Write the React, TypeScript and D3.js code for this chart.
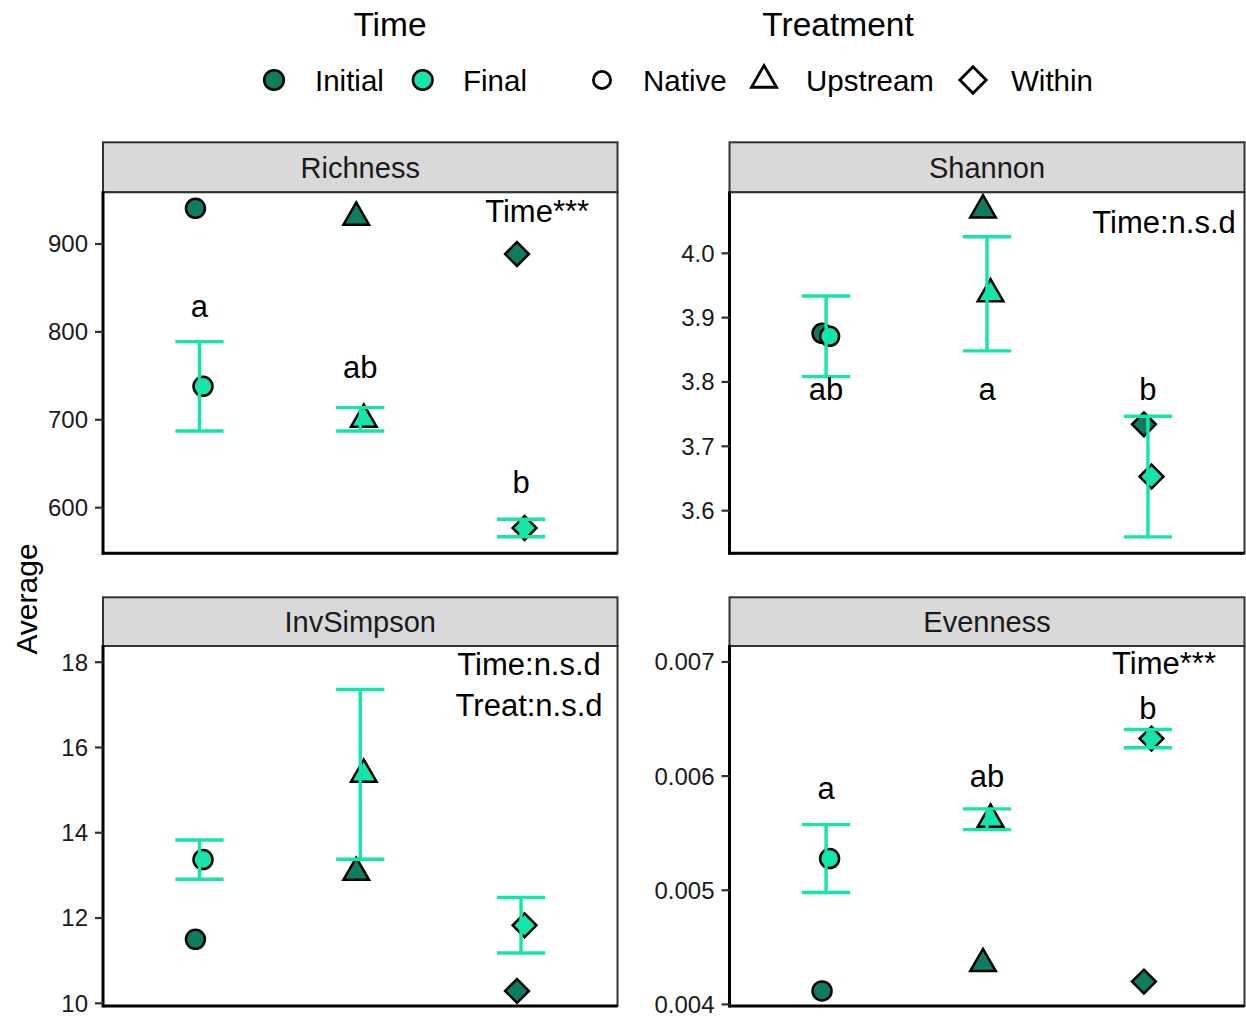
import React from "react";
import * as d3 from "d3";

// ---- data ---------------------------------------------------------------
const treatments = ["Native", "Upstream", "Within"];
const timeLevels = ["Initial", "Final"];
const metrics = ["Richness", "Shannon", "InvSimpson", "Evenness"];

// Richness
const richnessInitial = [940.6, 930.4, 888.6];
const richnessFinal = [738.1, 700.5, 576.9];
const richnessSe = [50.8, 13.3, 9.9];
const richnessLetters = ["a", "ab", "b"];
const richnessLetterY = [816.6, 747.2, 617.1];
const richnessNotes = ["Time***"];
const richnessNoteY = [925.4];
const richnessNoteX = [3.1];
const richnessDomain = [548.1, 958.8];
const richnessTicks = [600, 700, 800, 900];

// Shannon
const shannonInitial = [3.8756, 4.0673, 3.7342];
const shannonFinal = [3.871, 3.937, 3.653];
const shannonSe = [0.0627, 0.0886, 0.0938];
const shannonLetters = ["ab", "a", "b"];
const shannonLetterY = [3.772, 3.772, 3.772];
const shannonNotes = ["Time:n.s.d"];
const shannonNoteY = [4.031];
const shannonNoteX = [3.1];
const shannonDomain = [3.5337, 4.0948];
const shannonTicks = [3.6, 3.7, 3.8, 3.9, 4.0];

// InvSimpson
const invSimpsonInitial = [11.5, 13.07, 10.29];
const invSimpsonFinal = [13.37, 15.37, 11.83];
const invSimpsonSe = [0.46, 1.99, 0.65];
const invSimpsonLetters: string[] = [];
const invSimpsonLetterY: number[] = [];
const invSimpsonNotes = ["Time:n.s.d", "Treat:n.s.d"];
const invSimpsonNoteY = [17.71, 16.75];
const invSimpsonNoteX = [3.05, 3.05];
const invSimpsonDomain = [9.937, 18.38];
const invSimpsonTicks = [10, 12, 14, 16, 18];

// Evenness
const evennessInitial = [0.004118, 0.004357, 0.0042];
const evennessFinal = [0.005278, 0.005622, 0.006329];
const evennessSe = [0.000297, 0.000091, 0.00008];
const evennessLetters = ["a", "ab", "b"];
const evennessLetterY = [0.0058, 0.005906, 0.006503];
const evennessNotes = ["Time***"];
const evennessNoteY = [0.006892];
const evennessNoteX = [3.1];
const evennessDomain = [0.003986, 0.00714];
const evennessTicks = [0.004, 0.005, 0.006, 0.007];

const panelData = [
  { initial: richnessInitial, final: richnessFinal, se: richnessSe, letters: richnessLetters, letterY: richnessLetterY, notes: richnessNotes, noteY: richnessNoteY, noteX: richnessNoteX, domain: richnessDomain, ticks: richnessTicks, fmt: d3.format("d") },
  { initial: shannonInitial, final: shannonFinal, se: shannonSe, letters: shannonLetters, letterY: shannonLetterY, notes: shannonNotes, noteY: shannonNoteY, noteX: shannonNoteX, domain: shannonDomain, ticks: shannonTicks, fmt: d3.format(".1f") },
  { initial: invSimpsonInitial, final: invSimpsonFinal, se: invSimpsonSe, letters: invSimpsonLetters, letterY: invSimpsonLetterY, notes: invSimpsonNotes, noteY: invSimpsonNoteY, noteX: invSimpsonNoteX, domain: invSimpsonDomain, ticks: invSimpsonTicks, fmt: d3.format("d") },
  { initial: evennessInitial, final: evennessFinal, se: evennessSe, letters: evennessLetters, letterY: evennessLetterY, notes: evennessNotes, noteY: evennessNoteY, noteX: evennessNoteX, domain: evennessDomain, ticks: evennessTicks, fmt: d3.format(".3f") },
];

// ---- styling / layout -----------------------------------------------------
const W = 1246;
const H = 1016;
const FONT = "'Liberation Sans', Arial, Helvetica, sans-serif";
const INITIAL_FILL = "#0e7c5e";
const FINAL_FILL = "#14e5aa";
const colX = [
  [103, 617.5],
  [729.5, 1244.5],
];
const rowY = [
  { strip: 142.3, top: 192.3, bottom: 553.3 },
  { strip: 597.3, top: 646, bottom: 1006 },
];
const R_PT = 9.5;
const PT_STROKE = 2.5;
const DODGE_INITIAL = -0.025;
const DODGE_FINAL = 0.022;
const CAP = 0.15;

// symbols following R's pch geometry
function symbolPath(treatment: string, R: number, legendOpen = false): string | null {
  if (treatment === "Upstream") {
    const r = 1.555 * R, xc = 1.347 * R, yc = 0.778 * R;
    return `M0,${-r}L${xc},${yc}L${-xc},${yc}Z`;
  }
  if (treatment === "Within") {
    const h = (legendOpen ? 1.414 : 1.2533) * R;
    return `M0,${-h}L${h},0L0,${h}L${-h},0Z`;
  }
  return null;
}

function Symbol({ treatment, x, y, R, fill, open = false, sw = PT_STROKE }: { treatment: string; x: number; y: number; R: number; fill: string; open?: boolean; sw?: number }) {
  const p = symbolPath(treatment, R, open);
  if (!p) return <circle cx={x} cy={y} r={R} fill={fill} stroke="#000" strokeWidth={sw} />;
  return <path d={p} transform={`translate(${x},${y})`} fill={fill} stroke="#000" strokeWidth={sw} strokeLinejoin="miter" />;
}

function Panel({ idx }: { idx: number }) {
  const d = panelData[idx];
  const [x0, x1] = colX[idx % 2];
  const { strip, top, bottom } = rowY[Math.floor(idx / 2)];
  const x = d3.scaleLinear().domain([0.4, 3.6]).range([x0, x1]);
  const y = d3.scaleLinear().domain(d.domain).range([bottom, top]);
  const midStrip = (strip + top) / 2;
  return (
    <g>
      <rect x={x0} y={strip} width={x1 - x0} height={top - strip} fill="#d9d9d9" stroke="#333" strokeWidth={2} />
      <text x={(x0 + x1) / 2} y={midStrip + 10.4} textAnchor="middle" fontSize={29} fill="#1a1a1a">
        {metrics[idx]}
      </text>
      <rect x={x0} y={top} width={x1 - x0} height={bottom - top} fill="#fff" />
      {/* initial means */}
      {treatments.map((t, i) => (
        <Symbol key={"i" + t} treatment={t} x={x(i + 1 + DODGE_INITIAL)} y={y(d.initial[i])} R={R_PT} fill={INITIAL_FILL} />
      ))}
      {/* final means */}
      {treatments.map((t, i) => (
        <Symbol key={"f" + t} treatment={t} x={x(i + 1 + DODGE_FINAL)} y={y(d.final[i])} R={R_PT} fill={FINAL_FILL} />
      ))}
      {/* standard error bars for the final means */}
      {treatments.map((t, i) => {
        const cx = x(i + 1);
        const hi = y(d.final[i] + d.se[i]);
        const lo = y(d.final[i] - d.se[i]);
        return (
          <g key={"e" + t} stroke={FINAL_FILL} strokeWidth={3.4}>
            <line x1={cx} x2={cx} y1={hi} y2={lo} />
            <line x1={x(i + 1 - CAP)} x2={x(i + 1 + CAP)} y1={hi} y2={hi} />
            <line x1={x(i + 1 - CAP)} x2={x(i + 1 + CAP)} y1={lo} y2={lo} />
          </g>
        );
      })}
      {d.letters.map((l, i) => (
        <text key={"l" + i} x={x(i + 1)} y={y(d.letterY[i])} textAnchor="middle" fontSize={31} fill="#000">
          {l}
        </text>
      ))}
      {d.notes.map((n, i) => (
        <text key={"n" + i} x={x(d.noteX[i])} y={y(d.noteY[i])} textAnchor="middle" fontSize={31} fill="#000">
          {n}
        </text>
      ))}
      {/* panel border, then axis lines */}
      <rect x={x0} y={top} width={x1 - x0} height={bottom - top} fill="none" stroke="#333" strokeWidth={2} />
      <line x1={x0} x2={x0} y1={top - 1} y2={bottom + 1.5} stroke="#000" strokeWidth={3} />
      <line x1={x0} x2={x1} y1={bottom} y2={bottom} stroke="#000" strokeWidth={3} />
      {d.ticks.map((t) => (
        <g key={"t" + t}>
          <line x1={x0 - 8} x2={x0} y1={y(t)} y2={y(t)} stroke="#333" strokeWidth={2.2} />
          <text x={x0 - 15} y={y(t) + 8.4} textAnchor="end" fontSize={24} fill="#1a1a1a">
            {d.fmt(t)}
          </text>
        </g>
      ))}
    </g>
  );
}

function Legend() {
  const timeX = [274, 422.7];
  const timeTextX = [315, 463];
  const trtX = [602, 764, 973];
  const trtTextX = [643, 806, 1011];
  const cy = 80;
  return (
    <g>
      <text x={390} y={36} textAnchor="middle" fontSize={33.5} fill="#000">Time</text>
      <text x={838} y={36} textAnchor="middle" fontSize={33.5} fill="#000">Treatment</text>
      {timeLevels.map((lv, i) => (
        <g key={lv}>
          <circle cx={timeX[i]} cy={cy} r={9.8} fill={i === 0 ? INITIAL_FILL : FINAL_FILL} stroke="#000" strokeWidth={2.6} />
          <text x={timeTextX[i]} y={90.5} fontSize={29.5} fill="#000">{lv}</text>
        </g>
      ))}
      {treatments.map((t, i) => (
        <g key={t}>
          <Symbol treatment={t} x={trtX[i]} y={cy} R={t === "Native" ? 8.6 : 9.3} fill="none" open sw={2.8} />
          <text x={trtTextX[i]} y={90.5} fontSize={29.5} fill="#000">{t}</text>
        </g>
      ))}
    </g>
  );
}

export default function App() {
  return (
    <svg
      width={W}
      height={H}
      viewBox={`0 0 ${W} ${H}`}
      style={{ position: "absolute", left: 0, top: 0, background: "#fff", fontFamily: FONT }}
    >
      <rect width={W} height={H} fill="#fff" />
      <Legend />
      {metrics.map((m, i) => (
        <Panel key={m} idx={i} />
      ))}
      <text transform="translate(37,599) rotate(-90)" textAnchor="middle" fontSize={30} fill="#000">
        Average
      </text>
    </svg>
  );
}
